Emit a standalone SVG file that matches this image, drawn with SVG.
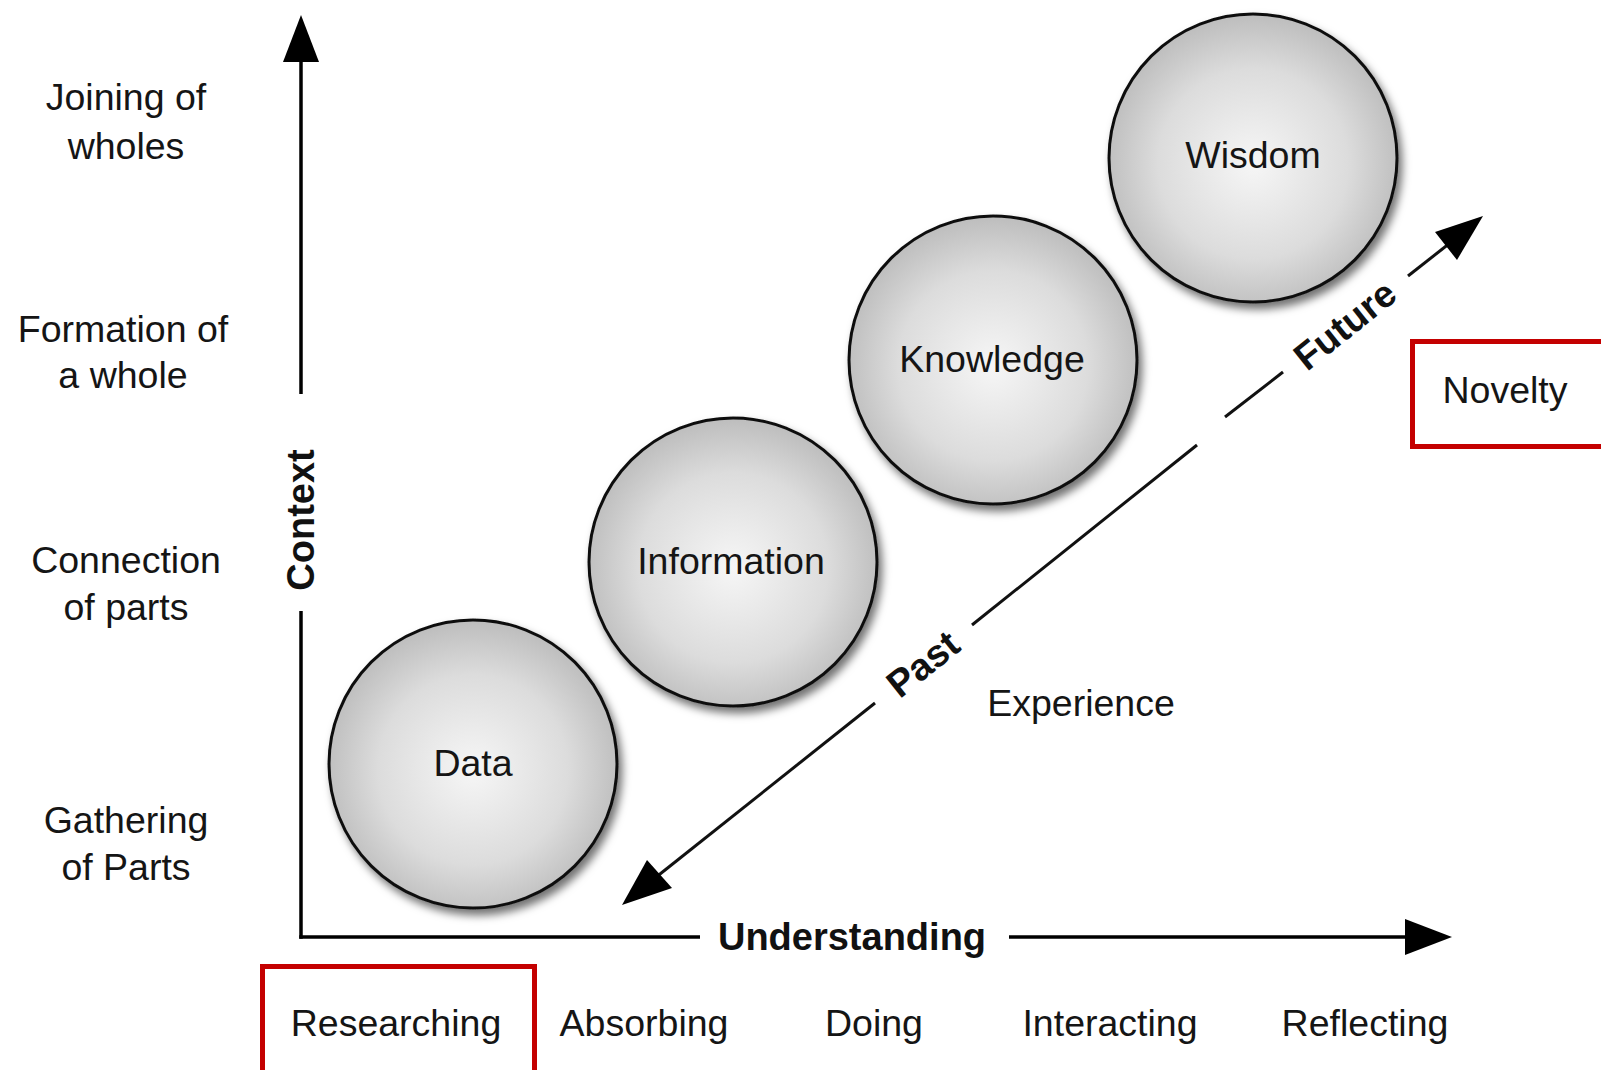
<svg xmlns="http://www.w3.org/2000/svg" width="1601" height="1070" viewBox="0 0 1601 1070">
<style>
.lbl{font-family:"Liberation Sans",Arial,sans-serif;font-size:37.5px;fill:#151515;text-anchor:middle}
.bold{font-family:"Liberation Sans",Arial,sans-serif;font-size:38px;font-weight:bold;fill:#111;text-anchor:middle}
.ax{stroke:#000;stroke-width:3.5;fill:none}
.diag{stroke:#111;stroke-width:3;fill:none}
.ball{fill:url(#g);stroke:#111;stroke-width:3;filter:url(#sh)}
.red{fill:none;stroke:#c40000;stroke-width:5}
</style>
<defs>
<radialGradient id="g" cx="50%" cy="52%" r="55%">
<stop offset="0" stop-color="#f6f6f6"/>
<stop offset="0.6" stop-color="#dcdcdc"/>
<stop offset="1" stop-color="#b8b8b8"/>
</radialGradient>
<filter id="sh" x="-20%" y="-20%" width="140%" height="140%">
<feDropShadow dx="4" dy="6" stdDeviation="4" flood-color="#000" flood-opacity="0.55"/>
</filter>
</defs>
<rect width="1601" height="1070" fill="#fff"/>

<g id="connectors">
<line class="ax" x1="301" y1="60" x2="301" y2="394"/>
<line class="ax" x1="301" y1="611" x2="301" y2="938.75"/>
<polygon points="301,15 283,62 319,62" fill="#000"/>
<line class="ax" x1="299.25" y1="937" x2="700" y2="937"/>
<line class="ax" x1="1009" y1="937" x2="1408" y2="937"/>
<polygon points="1452,937 1405,919 1405,955" fill="#000"/>
<line class="diag" x1="655" y1="878" x2="875" y2="703"/>
<line class="diag" x1="972" y1="625" x2="1197" y2="445"/>
<line class="diag" x1="1225" y1="417" x2="1283" y2="372"/>
<line class="diag" x1="1408" y1="276" x2="1450" y2="243"/>
<polygon points="622,905 647,860 672,888" fill="#000"/>
<polygon points="1483,216 1435,232 1457,260" fill="#000"/>
</g>

<g id="axis-labels">
<text class="bold" transform="translate(301,520) rotate(-90)" dominant-baseline="central">Context</text>
<text class="bold" x="852" y="950">Understanding</text>
<text class="bold" transform="translate(923,664) rotate(-38.7)" dominant-baseline="central">Past</text>
<text class="bold" transform="translate(1345,325) rotate(-38.7)" dominant-baseline="central">Future</text>
</g>

<g id="node-data"><circle class="ball" cx="473" cy="764" r="144"/><text class="lbl" x="473" y="776">Data</text></g>
<g id="node-information"><circle class="ball" cx="733" cy="562" r="144"/><text class="lbl" x="731" y="574">Information</text></g>
<g id="node-knowledge"><circle class="ball" cx="993" cy="360" r="144"/><text class="lbl" x="992" y="372">Knowledge</text></g>
<g id="node-wisdom"><circle class="ball" cx="1253" cy="158" r="144"/><text class="lbl" x="1253" y="168">Wisdom</text></g>

<g id="left-labels">
<text class="lbl" x="126" y="110">Joining of</text>
<text class="lbl" x="126" y="159">wholes</text>
<text class="lbl" x="123" y="342">Formation of</text>
<text class="lbl" x="123" y="388">a whole</text>
<text class="lbl" x="126" y="573">Connection</text>
<text class="lbl" x="126" y="620">of parts</text>
<text class="lbl" x="126" y="833">Gathering</text>
<text class="lbl" x="126" y="880">of Parts</text>
</g>

<g id="experience"><text class="lbl" x="1081" y="716">Experience</text></g>

<g id="novelty"><rect class="red" x="1412.5" y="341.5" width="200" height="105"/><text class="lbl" x="1505" y="403">Novelty</text></g>

<g id="bottom-labels">
<rect class="red" x="262.5" y="966.5" width="272" height="120"/>
<text class="lbl" x="396" y="1036">Researching</text>
<text class="lbl" x="644" y="1036">Absorbing</text>
<text class="lbl" x="874" y="1036">Doing</text>
<text class="lbl" x="1110" y="1036">Interacting</text>
<text class="lbl" x="1365" y="1036">Reflecting</text>
</g>
</svg>
